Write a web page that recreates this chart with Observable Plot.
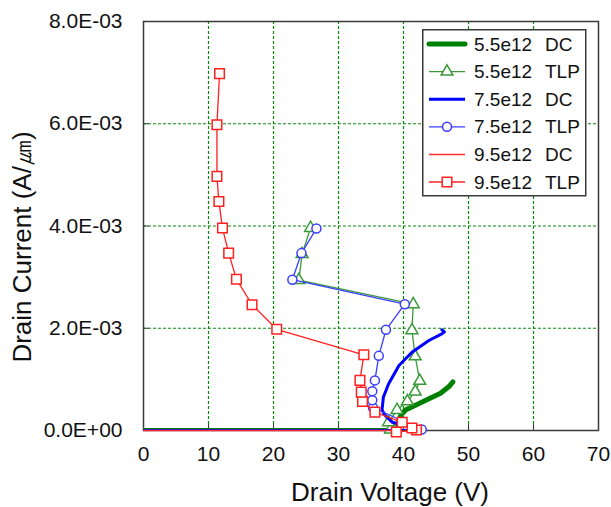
<!DOCTYPE html>
<html><head><meta charset="utf-8">
<script src="https://cdn.jsdelivr.net/npm/d3@7"></script>
<script src="https://cdn.jsdelivr.net/npm/@observablehq/plot@0.6"></script>
<style>
body{margin:0;background:#fff;font-family:"Liberation Sans",Arial,sans-serif}
#wrap{position:relative;width:611px;height:507px}
#legend{position:absolute;left:422px;top:29px}
</style>
</head><body><div id="wrap"></div>
<script>
// Tick values
const xTicks = [0, 10, 20, 30, 40, 50, 60, 70];
const yTicks = [0, 0.002, 0.004, 0.006, 0.008];

// Series names
const seriesNames = ["5.5e12 DC", "5.5e12 TLP", "7.5e12 DC", "7.5e12 TLP", "9.5e12 DC", "9.5e12 TLP"];

// 5.5e12 DC
const v55dc = [0, 39.0, 39.2, 39.6, 40.3, 41.6, 43.6, 45.7, 47.0, 47.6];
const i55dc = [0, 0, 0.00015, 0.00030, 0.00040, 0.00048, 0.00060, 0.00073, 0.00086, 0.00095];
// 5.5e12 TLP
const v55tlp = [38.0, 37.7, 39.0, 40.6, 41.8, 42.5, 41.8, 41.3, 41.5, 23.9, 24.4, 25.7];
const i55tlp = [0.00002, 0.00016, 0.00040, 0.00057, 0.00076, 0.00097, 0.00145, 0.00196, 0.00247, 0.00294, 0.00345, 0.00396];
// 7.5e12 DC
const v75dc = [0, 42.0, 42.8, 42.5, 40.0, 38.3, 37.2, 36.7, 36.9, 37.7, 39.3, 41.3, 43.9, 45.9, 46.3, 45.9];
const i75dc = [0, 0, 0.00002, 0.00006, 0.00010, 0.00016, 0.00029, 0.00040, 0.00065, 0.00091, 0.00127, 0.00153, 0.00176, 0.00189, 0.00193, 0.00197];
// 7.5e12 TLP
const v75tlp = [42.8, 35.3, 35.2, 35.2, 35.6, 36.2, 37.3, 40.2, 22.9, 24.3, 26.6];
const i75tlp = [0.00002, 0.00045, 0.00059, 0.00077, 0.00098, 0.00146, 0.00197, 0.00247, 0.00295, 0.00347, 0.00395];
// 9.5e12 DC
const v95dc = [0, 38.8];
const i95dc = [0, 0];
// 9.5e12 TLP
const v95tlp = [38.9, 42.0, 41.3, 39.8, 35.6, 33.7, 33.5, 33.3, 33.9, 20.5, 16.7, 14.3, 13.1, 12.15, 11.6, 11.3, 11.3, 11.7];
const i95tlp = [-0.00003, 0.00001, 0.00005, 0.00016, 0.00036, 0.00057, 0.00075, 0.00098, 0.00148, 0.00198, 0.00246, 0.00296, 0.00347, 0.00396, 0.00448, 0.00497, 0.00598, 0.00698];

const styles = {
  "5.5e12 DC":  {stroke: "#008000", width: 5, symbol: null, clip: true},
  "5.5e12 TLP": {stroke: "#3a9a3a", width: 1.3, symbol: "triangle", r: 4.4, clip: true},
  "7.5e12 DC":  {stroke: "#0000ff", width: 3, symbol: null, clip: true},
  "7.5e12 TLP": {stroke: "#3c3cff", width: 1.3, symbol: "circle", r: 4.5, clip: true},
  "9.5e12 DC":  {stroke: "#ff3030", width: 1.5, symbol: null, clip: false},
  "9.5e12 TLP": {stroke: "#ff2020", width: 1.3, symbol: "square", r: 5.4, clip: false}
};
const raw = {
  "5.5e12 DC": [v55dc, i55dc], "5.5e12 TLP": [v55tlp, i55tlp],
  "7.5e12 DC": [v75dc, i75dc], "7.5e12 TLP": [v75tlp, i75tlp],
  "9.5e12 DC": [v95dc, i95dc], "9.5e12 TLP": [v95tlp, i95tlp]
};
const rows = name => raw[name][0].map((v, k) => ({v, i: raw[name][1][k], s: name}));

const fmtE = d => d.toExponential(1).toUpperCase().replace(/E([+-])(\d)$/, "E$10$2");
const grid = "#0a8a0a";

const marks = [
  Plot.ruleX(xTicks.slice(1, -1), {stroke: grid, strokeWidth: 1.2, strokeDasharray: "3,2"}),
  Plot.ruleY(yTicks.slice(1, -1), {stroke: grid, strokeWidth: 1.2, strokeDasharray: "3,2"}),
  Plot.frame({stroke: "#3a3a3a", strokeWidth: 1.5}),
  Plot.axisX(xTicks, {tickSize: -6, text: null, label: null, stroke: "#3a3a3a"}),
  Plot.axisY(yTicks, {tickSize: -6, text: null, label: null, stroke: "#3a3a3a"})
];
for (const name of seriesNames) {
  const st = styles[name];
  const d = rows(name);
  marks.push(Plot.line(d, {x: "v", y: "i", stroke: st.stroke, strokeWidth: st.width, strokeLinejoin: "round", strokeLinecap: "round", clip: st.clip}));
  if (st.symbol) {
    marks.push(Plot.dot(d, {x: "v", y: "i", symbol: st.symbol, r: st.r,
      stroke: st.stroke, strokeWidth: 1.5, fill: "white"}));
  }
}
marks.push(
  Plot.axisX(xTicks, {tickSize: 0, tickPadding: 16, fontSize: 21, label: null, tickFormat: d => d}),
  Plot.axisY(yTicks, {tickSize: 0, tickPadding: 21, fontSize: 21, label: null, tickFormat: fmtE}),
  Plot.text(["Drain Voltage (V)"], {frameAnchor: "bottom", textAnchor: "middle", lineAnchor: "middle", dx: 19, dy: 62, fontSize: 26, fill: "#111"}),
  Plot.text(["Drain Current (A/\u339B)"], {frameAnchor: "left", textAnchor: "middle", lineAnchor: "middle", dx: -121, dy: 21, rotate: -90, fontSize: 26, fill: "#111"})
);

const chart = Plot.plot({
  width: 611, height: 507,
  marginLeft: 143, marginRight: 13, marginTop: 21, marginBottom: 77,
  style: {fontFamily: "'Liberation Sans', Arial, sans-serif", color: "#111", background: "white"},
  x: {domain: [0, 70]},
  y: {domain: [0, 0.008]},
  marks
});
const wrap = document.getElementById("wrap");
wrap.appendChild(chart);

// Legend
const leg = d3.select(wrap).append("svg").attr("id", "legend").attr("width", 166).attr("height", 169);
leg.append("rect").attr("x", 0.75).attr("y", 0.75).attr("width", 163).attr("height", 166)
  .attr("fill", "white").attr("stroke", "#3a3a3a").attr("stroke-width", 1.5);
seriesNames.forEach((name, k) => {
  const st = styles[name];
  const cy = 15 + k * 27.6;
  const g = leg.append("g").attr("transform", `translate(0,${cy})`);
  g.append("line").attr("x1", 7).attr("x2", 43).attr("y1", 0).attr("y2", 0)
    .attr("stroke", st.stroke).attr("stroke-width", st.width).attr("stroke-linecap", st.width > 3 ? "round" : "butt");
  if (st.symbol) {
    const sym = {triangle: d3.symbolTriangle, circle: d3.symbolCircle, square: d3.symbolSquare}[st.symbol];
    g.append("path").attr("transform", "translate(25,0)").attr("d", d3.symbol(sym, Math.PI * st.r * st.r)())
      .attr("fill", "white").attr("stroke", st.stroke).attr("stroke-width", 1.5);
  }
  const [a, b] = name.split(" ");
  g.append("text").attr("x", 52).attr("y", 0).attr("dy", "0.35em").attr("font-size", 19).attr("fill", "#111").text(a);
  g.append("text").attr("x", 123).attr("y", 0).attr("dy", "0.35em").attr("font-size", 19).attr("fill", "#111").text(b);
});
</script></body></html>
